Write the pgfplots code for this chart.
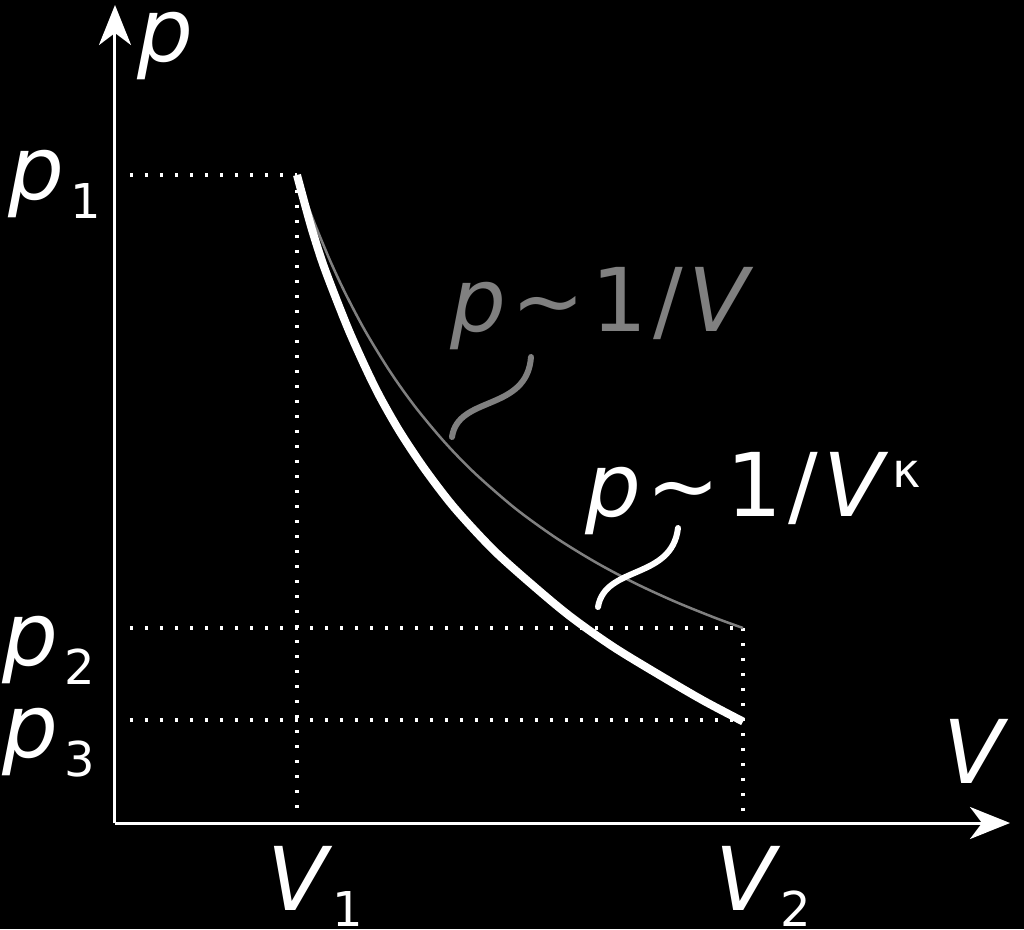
\documentclass[border=0pt]{standalone}
\usepackage{fontspec}
\setmainfont{DejaVu Sans}
\usepackage{pgfplots}
\pgfplotsset{compat=1.18}
\usetikzlibrary{arrows.meta}
\definecolor{gr}{RGB}{128,128,128}
\newcommand{\bigf}{\fontsize{88}{100}\selectfont}
\newcommand{\subf}{\fontsize{48}{50}\selectfont}
\begin{document}
\begin{tikzpicture}
\fill[black] (-115pt,-106pt) rectangle (909pt,823pt);
\begin{axis}[
  scale only axis, width=895pt, height=818pt,
  xmin=0, xmax=895, ymin=0, ymax=818,
  axis lines=left,
  axis line style={white, line width=3pt, -{Stealth[length=40pt,width=32pt,inset=12pt]}},
  xtick=\empty, ytick=\empty,
  clip=false,
  dotline/.style={white, line width=3.2pt, dash pattern=on 3.2pt off 11.8pt},
]
% reference lines
\addplot[dotline] coordinates {(15,648) (182,648)};
\addplot[dotline] coordinates {(182,648) (182,10)};
\addplot[dotline] coordinates {(15,195) (628,195)};
\addplot[dotline] coordinates {(15,103) (628,103)};
\addplot[dotline] coordinates {(628,195) (628,6)};
% isotherm p ~ 1/V
\addplot[gr, line width=2.5pt, smooth] coordinates {
(182,648.0) (190,625.1) (200,598.6) (215,562.6) (230,530.4) (250,492.4)
(275,451.5) (300,416.4) (330,380.4) (360,349.6) (400,314.8) (440,285.8)
(480,261.1) (520,239.8) (560,221.4) (600,205.2) (628,195.0)};
% adiabat p ~ 1/V^kappa
\addplot[white, line width=8pt, smooth] coordinates {
(182,648) (190,618.3) (198,590) (210,553.4) (232,497) (250,456.5)
(265,426) (285,391) (310,353.5) (340,314.5) (380,271.5) (425,231.5)
(458,204.5) (500,175) (552,143.5) (590,121.5) (628,101.5)};
% leaders
\draw[gr, line width=6pt, line cap=round] (axis cs:337,386) .. controls (axis cs:343,428) and (axis cs:412,411) .. (axis cs:416,466);
\draw[white, line width=6pt, line cap=round] (axis cs:483,216) .. controls (axis cs:490,258) and (axis cs:557,243) .. (axis cs:563,295);
% labels
\node[anchor=base west, inner sep=0, white] at (axis cs:22,761) {\bigf\textit{p}};
\node[anchor=base west, inner sep=0, white] at (axis cs:828,40) {\bigf\textit{V}};
\node[anchor=base west, inner sep=0, white] at (axis cs:-107,623) {\bigf\textit{p}\hspace{6pt}\raisebox{-19pt}{\subf 1}};
\node[anchor=base west, inner sep=0, white] at (axis cs:-113,158) {\bigf\textit{p}\hspace{6pt}\raisebox{-19pt}{\subf 2}};
\node[anchor=base west, inner sep=0, white] at (axis cs:-113,66) {\bigf\textit{p}\hspace{6pt}\raisebox{-19pt}{\subf 3}};
\node[anchor=base west, inner sep=0, white] at (axis cs:152,-87) {\bigf\textit{V}\raisebox{-16pt}{\subf 1}};
\node[anchor=base west, inner sep=0, white] at (axis cs:600,-87) {\bigf\textit{V}\raisebox{-16pt}{\subf 2}};
\node[anchor=base west, inner sep=0, text=gr] at (axis cs:335,491) {\bigf\textit{p}\hspace{5pt}\textasciitilde\hspace{7pt}1\hspace{6pt}/\hspace{5pt}\textit{V}};
\node[anchor=base west, inner sep=0, white] at (axis cs:470,307) {\bigf\textit{p}\hspace{5pt}\textasciitilde\hspace{7pt}1\hspace{6pt}/\hspace{5pt}\textit{V}\hspace{4pt}\raisebox{29pt}{\subf κ}};
\end{axis}
\pgfresetboundingbox
\useasboundingbox (-115pt,-106pt) rectangle (909pt,823pt);
\end{tikzpicture}
\end{document}
